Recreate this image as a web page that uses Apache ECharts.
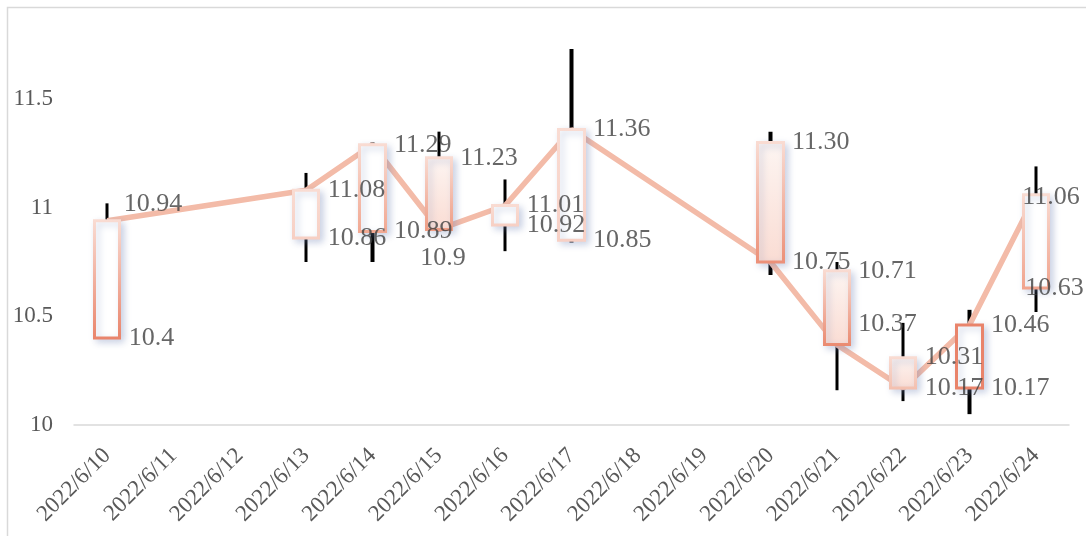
<!DOCTYPE html>
<html>
<head>
<meta charset="utf-8">
<script src="https://cdn.jsdelivr.net/npm/echarts@6/dist/echarts.min.js"></script>
<style>
  html, body { margin: 0; padding: 0; background: #fff; }
  #chart { width: 1086px; height: 536px; }
</style>
</head>
<body>
<div id="chart"></div>
<script>
// 日期（周末没有数据）
const dates = ['2022/6/10', '2022/6/11', '2022/6/12', '2022/6/13', '2022/6/14', '2022/6/15', '2022/6/16',
  '2022/6/17', '2022/6/18', '2022/6/19', '2022/6/20', '2022/6/21', '2022/6/22', '2022/6/23', '2022/6/24']
// 开盘 / 收盘 (kept as text so the labels read like the original)
const openVals = ['10.4', null, null, '10.86', '10.89', '11.23', '10.92', '10.85', null, null, '11.30', '10.71', '10.31', '10.17', '10.63']
const closeVals = ['10.94', null, null, '11.08', '11.29', '10.9', '11.01', '11.36', null, null, '10.75', '10.37', '10.17', '10.46', '11.06']
// 最高 / 最低
const highVals = [11.02, null, null, 11.16, 11.30, 11.35, 11.13, 11.73, null, null, 11.35, 10.75, 10.47, 10.53, 11.19]
const lowVals = [10.40, null, null, 10.75, 10.75, 10.89, 10.80, 10.84, null, null, 10.69, 10.16, 10.11, 10.05, 10.52]
const yTicks = { min: 10, max: 11.85, interval: 0.5 }

// label nudges (pixels) for the few labels that sit off their point
const closeNudge = { 0: [-5, -17], 5: [-40, 29], 11: [0, -20], 14: [-35, 3] }
const openNudge = { 14: [-32, 0] }

// bottom colour of each box outline (top is always light)
const outlineBottom = { 0: '#e9846b', 3: '#f7cfc3', 4: '#f1a892', 5: '#ee9c84', 6: '#f7cfc3', 7: '#f7d0c5',
  10: '#ec9078', 11: '#ea8a70', 12: '#f3bfae', 13: '#e9846b', 14: '#f0a38d' }
const outlineTop = { 13: '#e9846b' }

const serif = "'Liberation Serif', 'Times New Roman', serif"

function vGrad (top, bottom) {
  return new echarts.graphic.LinearGradient(0, 0, 0, 1, [
    { offset: 0, color: top },
    { offset: 1, color: bottom }
  ])
}

const wickData = dates.map((d, i) => highVals[i] == null ? '-' : [lowVals[i], highVals[i], lowVals[i], highVals[i]])
const boxData = dates.map((d, i) => {
  if (openVals[i] == null) return '-'
  const o = Number(openVals[i])
  const c = Number(closeVals[i])
  const edge = vGrad(outlineTop[i] || '#f9dcd3', outlineBottom[i])
  return {
    value: [o, c, Math.min(o, c), Math.max(o, c)],
    itemStyle: { borderColor: edge, borderColor0: edge }
  }
})
const lineData = closeVals.map(v => v == null ? null : Number(v))

function labelData (vals, nudge) {
  return vals.map((v, i) => {
    if (v == null) return '-'
    const item = { value: [i, Number(v)], text: v }
    if (nudge[i]) item.label = { offset: nudge[i] }
    return item
  })
}

const labelStyle = {
  show: true,
  position: 'right',
  distance: 21,
  fontFamily: serif,
  fontSize: 26,
  color: '#404040',
  formatter: p => p.data.text
}

const myChart = echarts.init(document.getElementById('chart'))
myChart.setOption({
  animation: false,
  backgroundColor: '#fff',
  graphic: [{
    type: 'rect',
    shape: { x: 7.5, y: 7.5, width: 1100, height: 560 },
    style: { fill: 'none', stroke: '#d9d9d9', lineWidth: 1.5 },
    silent: true
  }],
  grid: { left: 74, right: 17, top: 23, bottom: 111 },
  xAxis: {
    type: 'category',
    data: dates,
    boundaryGap: true,
    axisLine: { lineStyle: { color: '#d9d9d9', width: 1.5 } },
    axisTick: { show: false },
    axisLabel: {
      interval: 0,
      rotate: 45,
      margin: 27,
      fontFamily: serif,
      fontSize: 23,
      color: '#595959'
    },
    splitLine: { show: false }
  },
  yAxis: {
    type: 'value',
    min: yTicks.min,
    max: yTicks.max,
    interval: yTicks.interval,
    axisLine: { show: false },
    axisTick: { show: false },
    splitLine: { show: false },
    axisLabel: {
      showMaxLabel: false,
      margin: 21,
      fontFamily: serif,
      fontSize: 23,
      color: '#595959'
    }
  },
  series: [
    {
      name: 'wick',
      type: 'candlestick',
      z: 1,
      barWidth: 4,
      data: wickData,
      itemStyle: { color: '#000', color0: '#000', borderColor: '#000', borderColor0: '#000', borderWidth: 0 }
    },
    {
      name: 'close',
      type: 'line',
      z: 2,
      data: lineData,
      connectNulls: true,
      showSymbol: false,
      lineStyle: { color: '#f3bba8', width: 5.5 }
    },
    {
      name: 'box',
      type: 'candlestick',
      z: 3,
      barWidth: 26,
      data: boxData,
      itemStyle: {
        color: '#ffffff',
        color0: vGrad('#fdf5f2', '#fadcd3'),
        borderWidth: 3,
        shadowBlur: 7,
        shadowOffsetX: 3,
        shadowOffsetY: 3,
        shadowColor: 'rgba(110, 130, 180, 0.35)'
      }
    },
    {
      name: 'openLabel',
      type: 'scatter',
      z: 4,
      symbolSize: 1,
      itemStyle: { color: 'rgba(0,0,0,0)' },
      data: labelData(openVals, openNudge),
      label: labelStyle
    },
    {
      name: 'closeLabel',
      type: 'scatter',
      z: 4,
      symbolSize: 1,
      itemStyle: { color: 'rgba(0,0,0,0)' },
      data: labelData(closeVals, closeNudge),
      label: labelStyle
    }
  ]
})
</script>
</body>
</html>
